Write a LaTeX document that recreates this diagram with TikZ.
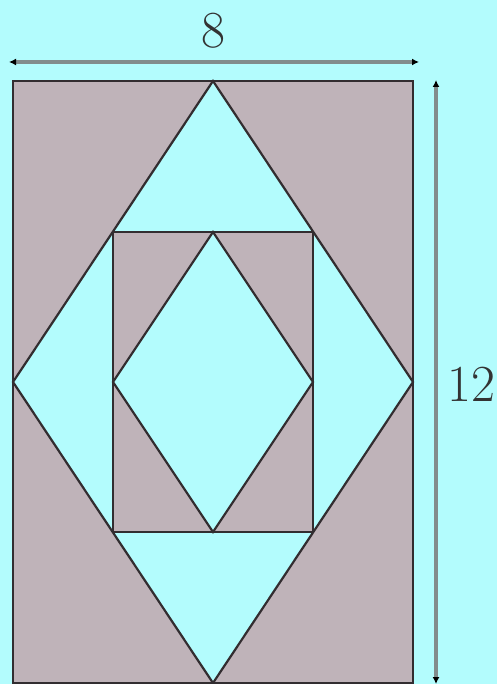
\documentclass[tikz,border=0pt]{standalone}
\usetikzlibrary{arrows.meta}
\definecolor{bgcyan}{RGB}{179,252,253}
\definecolor{fillgray}{RGB}{191,179,185}
\definecolor{edgedark}{RGB}{50,45,48}
\definecolor{dimgray}{RGB}{130,140,140}
\begin{document}
\begin{tikzpicture}[x=1pt,y=-1pt,
  shapeedge/.style={draw=edgedark,line width=2.2pt,line join=miter},
  dimline/.style={draw=dimgray,line width=3.5pt,{Latex[length=7pt,width=7pt,black]}-{Latex[length=7pt,width=7pt,black]}},
  dimlabel/.style={text=black!80,font=\fontsize{52}{58}\selectfont,inner sep=0pt}]
\fill[bgcyan] (0,0) rectangle (497,684);
\useasboundingbox (0,0) rectangle (497,684);
% outer rectangle
\coordinate (OTL) at (13,81);
\coordinate (OBR) at (413,683);
\filldraw[fill=fillgray,shapeedge] (OTL) rectangle (OBR);
% big diamond
\coordinate (DT) at (213,81);
\coordinate (DR) at (413,382);
\coordinate (DB) at (213,683);
\coordinate (DL) at (13,382);
\filldraw[fill=bgcyan,shapeedge] (DT) -- (DR) -- (DB) -- (DL) -- cycle;
% inner rectangle
\coordinate (ITL) at (113,232);
\coordinate (IBR) at (313,532);
\filldraw[fill=fillgray,shapeedge] (ITL) rectangle (IBR);
% inner diamond
\coordinate (dT) at (213,232);
\coordinate (dR) at (313,382);
\coordinate (dB) at (213,532);
\coordinate (dL) at (113,382);
\filldraw[fill=bgcyan,shapeedge] (dT) -- (dR) -- (dB) -- (dL) -- cycle;
% dimensions
\coordinate (HL) at (9,62);
\coordinate (HR) at (419,62);
\draw[dimline] (HL) -- (HR);
\node[dimlabel] (w) at (213,31) {8};
\coordinate (VT) at (436,80);
\coordinate (VB) at (436,684);
\draw[dimline] (VT) -- (VB);
\node[dimlabel,anchor=west] (h) at (447,384) {12};
\end{tikzpicture}
\end{document}
